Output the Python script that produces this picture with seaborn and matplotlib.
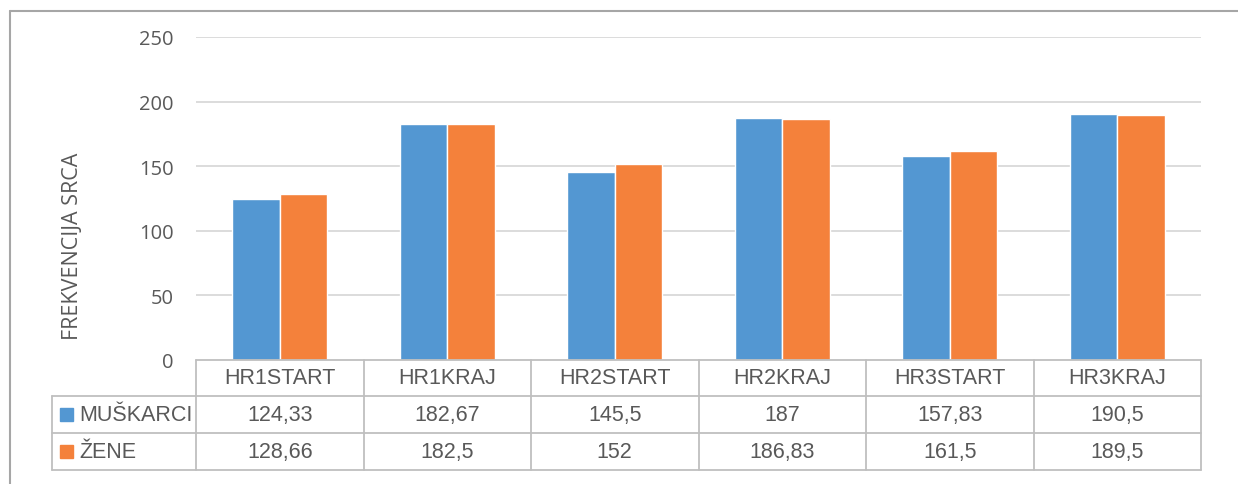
import numpy as np
import pandas as pd
import seaborn as sns
import matplotlib.pyplot as plt
import matplotlib.transforms as mtransforms

# data
categories = ["HR1START", "HR1KRAJ", "HR2START", "HR2KRAJ", "HR3START", "HR3KRAJ"]
series_names = ["MUŠKARCI", "ŽENE"]
muskarci = [124.33, 182.67, 145.5, 187, 157.83, 190.5]
zene = [128.66, 182.5, 152, 186.83, 161.5, 189.5]
muskarci_txt = ["124,33", "182,67", "145,5", "187", "157,83", "190,5"]
zene_txt = ["128,66", "182,5", "152", "186,83", "161,5", "189,5"]
yticks = [0, 50, 100, 150, 200, 250]

colors = ["#5397D2", "#F4813B"]
txt_col = "#595959"
grid_col = "#D9D9D9"
tab_col = "#BFBFBF"

sns.set_theme(style="white")
plt.rcParams["font.family"] = ["Open Sans", "DejaVu Sans"]
tab_font = ["Liberation Sans", "DejaVu Sans"]

W, H = 1238, 485
fig = plt.figure(figsize=(W / 100, H / 100), dpi=100)


def fx(x):
    return x / W


def fy(y):
    return 1 - y / H


left, right, top, bottom = 196, 1201, 38, 361
ax = fig.add_axes([fx(left), fy(bottom), fx(right - left), (bottom - top) / H])

df = pd.DataFrame({
    "cat": categories * 2,
    "serie": [series_names[0]] * 6 + [series_names[1]] * 6,
    "val": muskarci + zene,
})
sns.barplot(data=df, x="cat", y="val", hue="serie", palette=colors,
            width=0.57, gap=0, saturation=1, legend=False, ax=ax, zorder=3)

ax.set_ylim(0, 250)
ax.set_xlim(-0.5, 5.5)
ax.set_yticks(yticks)
ax.set_yticklabels([str(t) for t in yticks], fontsize=14.5, color=txt_col)
ax.set_xticks([])
ax.set_xlabel("")
ax.set_ylabel("FREKVENCIJA SRCA", fontsize=15.5, color=txt_col)
ax.yaxis.set_label_coords(-0.112, 0.356)
ax.tick_params(axis="y", length=0, pad=16)
for t in yticks[1:]:
    ax.axhline(t, color=grid_col, lw=1.3, zorder=0)
for s in ax.spines.values():
    s.set_visible(False)

# data table under the plot
trans = mtransforms.blended_transform_factory(ax.transData, fig.transFigure)
row_y = [361, 397, 434, 471]
tkw = dict(color=tab_col, lw=1.3, clip_on=False, zorder=5)

fig.add_artist(plt.Line2D([fx(left), fx(right)], [fy(row_y[0])] * 2,
                          transform=fig.transFigure, **tkw))
for y in row_y[1:]:
    fig.add_artist(plt.Line2D([fx(52), fx(right)], [fy(y)] * 2,
                              transform=fig.transFigure, **tkw))
for b in np.arange(-0.5, 6, 1):
    fig.add_artist(plt.Line2D([b, b], [fy(row_y[0]), fy(row_y[3])],
                              transform=trans, **tkw))
fig.add_artist(plt.Line2D([fx(52), fx(52)], [fy(row_y[1]), fy(row_y[3])],
                          transform=fig.transFigure, **tkw))

fs = 15.5
for i, c in enumerate(categories):
    for r, txt in enumerate([c, muskarci_txt[i], zene_txt[i]]):
        fig.text(i, fy((row_y[r] + row_y[r + 1]) / 2), txt, transform=trans,
                 ha="center", va="center", fontsize=fs, family=tab_font,
                 color=txt_col)

for k, name in enumerate(series_names):
    yc = (row_y[k + 1] + row_y[k + 2]) / 2
    fig.add_artist(plt.Rectangle((fx(60), fy(yc + 6.5)), fx(13), 13 / H,
                                 transform=fig.transFigure, color=colors[k]))
    fig.text(fx(79), fy(yc), name, ha="left", va="center", fontsize=fs,
             family=tab_font, color=txt_col)

# outer chart frame
fig.add_artist(plt.Line2D([fx(10), fx(10)], [fy(12), 0], transform=fig.transFigure,
                          color="#A6A6A6", lw=1.5))
fig.add_artist(plt.Line2D([fx(10), 1], [fy(12), fy(12)], transform=fig.transFigure,
                          color="#A6A6A6", lw=1.5))

fig.savefig("out.png", dpi=100)
